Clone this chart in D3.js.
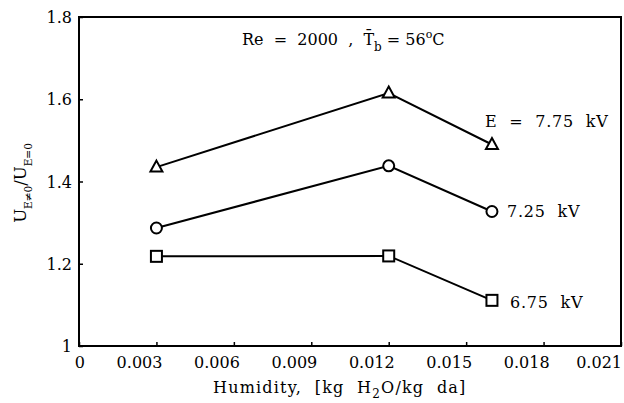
<!DOCTYPE html>
<html>
<head>
<meta charset="utf-8">
<script src="https://cdn.jsdelivr.net/npm/d3@7"></script>
<style>
  body { margin: 0; background: #fff; }
  text { font-family: "DejaVu Serif", serif; fill: #000; }
</style>
</head>
<body>
<svg id="chart" width="624" height="403"></svg>
<script>
// Humidity values (kg H2O / kg dry air)
const humidity = [0.003, 0.012, 0.016];
// Velocity ratio U(E≠0)/U(E=0) per applied voltage
const u775 = [1.435, 1.615, 1.49];
const u725 = [1.287, 1.438, 1.327];
const u675 = [1.218, 1.219, 1.111];
const seriesLabels = ["E = 7.75 kV", "7.25 kV", "6.75 kV"];
const xTicks = [0, 0.003, 0.006, 0.009, 0.012, 0.015, 0.018, 0.021];
const xTickLabels = ["0", "0.003", "0.006", "0.009", "0.012", "0.015", "0.018", "0.021"];
const yTicks = [1, 1.2, 1.4, 1.6, 1.8];
const yTickLabels = ["1", "1.2", "1.4", "1.6", "1.8"];

const svg = d3.select("#chart");
const plotL = 79, plotR = 621, plotT = 17, plotB = 346;

const x = d3.scaleLinear().domain([0, 0.021]).range([plotL, plotR]);
const y = d3.scaleLinear().domain([1, 1.8]).range([plotB, plotT]);

// frame
svg.append("rect")
  .attr("x", plotL).attr("y", plotT)
  .attr("width", plotR - plotL).attr("height", plotB - plotT)
  .attr("fill", "none").attr("stroke", "#000").attr("stroke-width", 2);

// bottom axis ticks (inward)
const xAxis = d3.axisBottom(x).tickValues(xTicks).tickSize(-4).tickFormat("");
svg.append("g").attr("transform", `translate(0,${plotB})`).call(xAxis)
  .call(g => g.select(".domain").remove())
  .call(g => g.selectAll("line").attr("stroke-width", 1.5));
svg.append("g").selectAll("text").data(xTicks).join("text")
  .attr("x", d => Math.min(x(d) + 6, 622)).attr("y", plotB + 22)
  .attr("text-anchor", "end").attr("font-size", 16)
  .text((d, i) => xTickLabels[i]);

// left axis ticks (inward)
const yAxis = d3.axisLeft(y).tickValues(yTicks).tickSize(-4).tickFormat("");
svg.append("g").attr("transform", `translate(${plotL},0)`).call(yAxis)
  .call(g => g.select(".domain").remove())
  .call(g => g.selectAll("line").attr("stroke-width", 1.5));
svg.append("g").selectAll("text").data(yTicks).join("text")
  .attr("x", plotL - 7).attr("y", d => y(d) + 6)
  .attr("text-anchor", "end").attr("font-size", 16)
  .text((d, i) => yTickLabels[i]);

// series
const series = [
  { vals: u775, shape: "triangle" },
  { vals: u725, shape: "circle" },
  { vals: u675, shape: "square" }
];
const line = d3.line().x(d => x(d[0])).y(d => y(d[1]));
series.forEach(s => {
  const pts = humidity.map((h, i) => [h, s.vals[i]]);
  svg.append("path").attr("d", line(pts))
    .attr("fill", "none").attr("stroke", "#000").attr("stroke-width", 2);
  const g = svg.append("g");
  pts.forEach(p => {
    const cx = x(p[0]), cy = y(p[1]);
    if (s.shape === "circle") {
      g.append("circle").attr("cx", cx).attr("cy", cy).attr("r", 5.5)
        .attr("fill", "#fff").attr("stroke", "#000").attr("stroke-width", 2);
    } else if (s.shape === "square") {
      g.append("rect").attr("x", cx - 5.5).attr("y", cy - 5.5).attr("width", 11).attr("height", 11)
        .attr("fill", "#fff").attr("stroke", "#000").attr("stroke-width", 2);
    } else {
      g.append("path").attr("d", `M${cx},${cy - 6.5}L${cx + 6},${cy + 4.5}L${cx - 6},${cy + 4.5}Z`)
        .attr("fill", "#fff").attr("stroke", "#000").attr("stroke-width", 2);
    }
  });
});

// series labels
const labelPos = [[485, 127], [507, 217], [510, 308]];
seriesLabels.forEach((t, i) => {
  svg.append("text").attr("x", labelPos[i][0]).attr("y", labelPos[i][1])
    .attr("font-size", 16).attr("letter-spacing", 0.8)
    .attr("xml:space", "preserve").text(t.replace(/ /g, "  "));
});

// condition note
const note = svg.append("text").attr("x", 242).attr("y", 45).attr("font-size", 16)
  .attr("xml:space", "preserve");
note.append("tspan").text("Re  =  2000  ,  ");
note.append("tspan").text("T\u0304");
note.append("tspan").attr("dy", 6).attr("font-size", 12).text("b");
note.append("tspan").attr("dy", -6).text(" = 56");
note.append("tspan").attr("dy", -7).attr("font-size", 11).text("o");
note.append("tspan").attr("dy", 7).text("C");

// x-axis title
const xt = svg.append("text").attr("x", 213).attr("y", 393).attr("font-size", 16)
  .attr("letter-spacing", 1.2).attr("xml:space", "preserve");
xt.append("tspan").text("Humidity,  [kg  H");
xt.append("tspan").attr("dy", 5).attr("font-size", 12).text("2");
xt.append("tspan").attr("dy", -5).text("O/kg  da]");

// y-axis title
const yt = svg.append("text").attr("transform", "translate(26,183) rotate(-90)")
  .attr("text-anchor", "middle").attr("font-size", 16.5);
yt.append("tspan").text("U");
yt.append("tspan").attr("dy", 6).attr("font-size", 10.5).text("E\u22600");
yt.append("tspan").attr("dy", -6).text("/U");
yt.append("tspan").attr("dy", 6).attr("font-size", 10.5).text("E=0");
</script>
</body>
</html>
